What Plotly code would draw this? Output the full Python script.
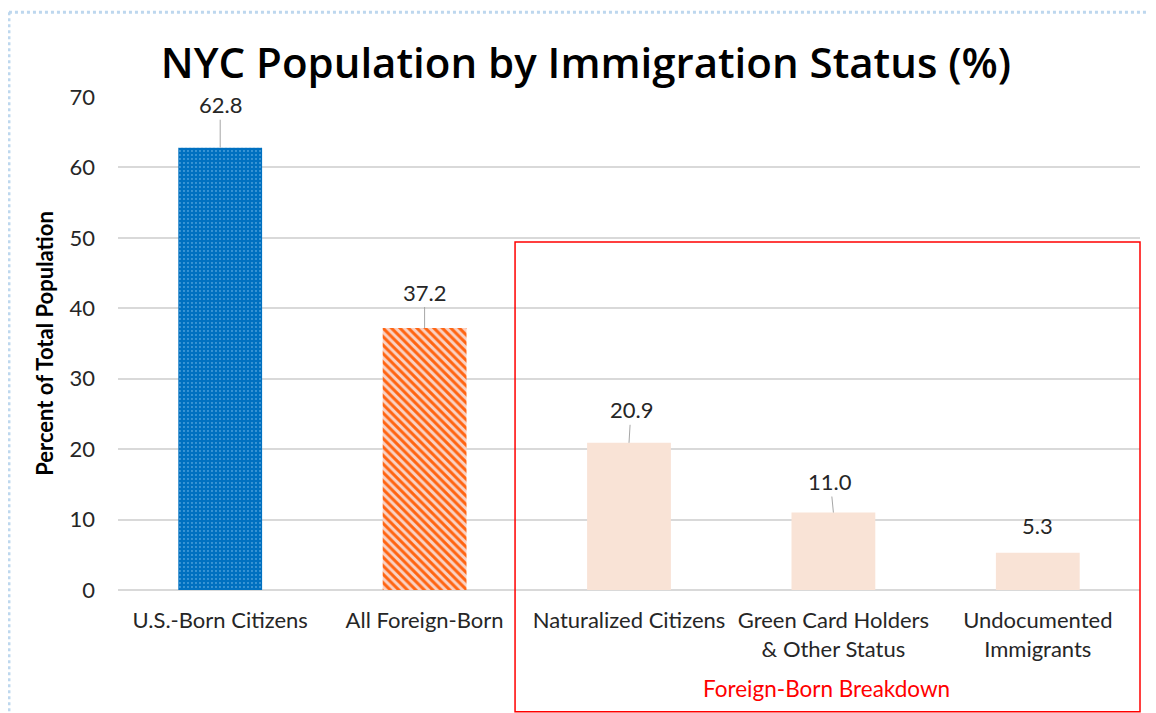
import plotly.graph_objects as go

categories = [
    "U.S.-Born Citizens",
    "All Foreign-Born",
    "Naturalized Citizens",
    "Green Card Holders<br>& Other Status",
    "Undocumented<br>Immigrants",
]
values = [62.8, 37.2, 20.9, 11.0, 5.3]
labels = ["62.8", "37.2", "20.9", "11.0", "5.3"]
y_ticks = [0, 10, 20, 30, 40, 50, 60, 70]

# styling per bar: (fill, pattern shape, pattern colour, size, solidity)
bar_styles = [
    ("#0070C0", ".", "#8FCBF2", 4, 0.1),
    ("#FAD2C4", "\\", "#FF6411", 6, 0.5),
    ("#F9E3D6", "", None, 8, 0.3),
    ("#F9E3D6", "", None, 8, 0.3),
    ("#F9E3D6", "", None, 8, 0.3),
]
label_offsets = [(0, -43), (0, -36), (2, -33), (-3, -31), (0, -27)]
has_leader = [True, True, True, True, False]
BODY_FONT = "Lato, 'Open Sans', sans-serif"

fig = go.Figure()
for cat, val, (fill, shape, fg, size, solid) in zip(categories, values, bar_styles):
    pattern = dict(shape=shape)
    if shape:
        pattern.update(fgcolor=fg, fgopacity=1, size=size, solidity=solid, fillmode="overlay")
    fig.add_trace(go.Bar(
        x=[cat], y=[val], width=0.41, name=cat,
        marker=dict(color=fill, line=dict(width=0), pattern=pattern),
        hoverinfo="x+y",
    ))

for cat, val, txt, (ax, ay), lead in zip(categories, values, labels, label_offsets, has_leader):
    fig.add_annotation(
        x=cat, y=val, text=txt,
        showarrow=True, arrowhead=0, arrowwidth=1, standoff=0,
        arrowcolor="#A6A6A6" if lead else "rgba(0,0,0,0)",
        ax=ax, ay=ay,
        font=dict(family=BODY_FONT, size=22, color="#262626"),
    )

# red box marking the foreign-born breakdown
fig.add_shape(type="rect", xref="paper", yref="paper",
              x0=0.3885, x1=1.0, y0=-0.247, y1=0.706,
              line=dict(color="#FF0000", width=1.5))
fig.add_annotation(xref="paper", yref="paper", x=0.693, y=-0.199,
                   xanchor="center", yanchor="middle",
                   text="Foreign-Born Breakdown", showarrow=False,
                   font=dict(family=BODY_FONT, size=22.5, color="#FF0000"))

# dotted page frame
fig.add_shape(type="line", xref="paper", yref="paper", x0=-0.1067, x1=1.02, y0=1.172, y1=1.172,
              line=dict(color="#BDD7EE", width=3, dash="dot"))
fig.add_shape(type="line", xref="paper", yref="paper", x0=-0.1067, x1=-0.1067, y0=1.172, y1=-0.26,
              line=dict(color="#BDD7EE", width=3, dash="dot"))

fig.update_layout(
    width=1148, height=705,
    margin=dict(l=110, r=16, t=89, b=123, autoexpand=False),
    paper_bgcolor="white", plot_bgcolor="white",
    title=dict(text="NYC Population by Immigration Status (%)",
               x=0.5035, xanchor="center", y=0.922, yanchor="middle",
               font=dict(family="'Open Sans', sans-serif", size=42, weight=600, color="#000000")),
    showlegend=False,
    barmode="overlay",
)
fig.update_xaxes(
    showgrid=False, showline=False, ticks="", automargin=False,
    tickfont=dict(family=BODY_FONT, size=22, color="#262626"),
    ticklabelstandoff=15,
)
fig.update_yaxes(
    range=[0, 70], tickvals=y_ticks, automargin=False,
    showgrid=True, gridcolor="#D9D9D9", gridwidth=1.5,
    zeroline=True, zerolinecolor="#D9D9D9", zerolinewidth=1.5,
    showline=False, ticks="",
    tickfont=dict(family=BODY_FONT, size=22, color="#262626"),
    ticklabelstandoff=22,
    title=dict(text="<b>Percent of Total Population</b>", standoff=9,
               font=dict(family=BODY_FONT, size=22, color="#000000")),
)

fig.write_html("out.html")
